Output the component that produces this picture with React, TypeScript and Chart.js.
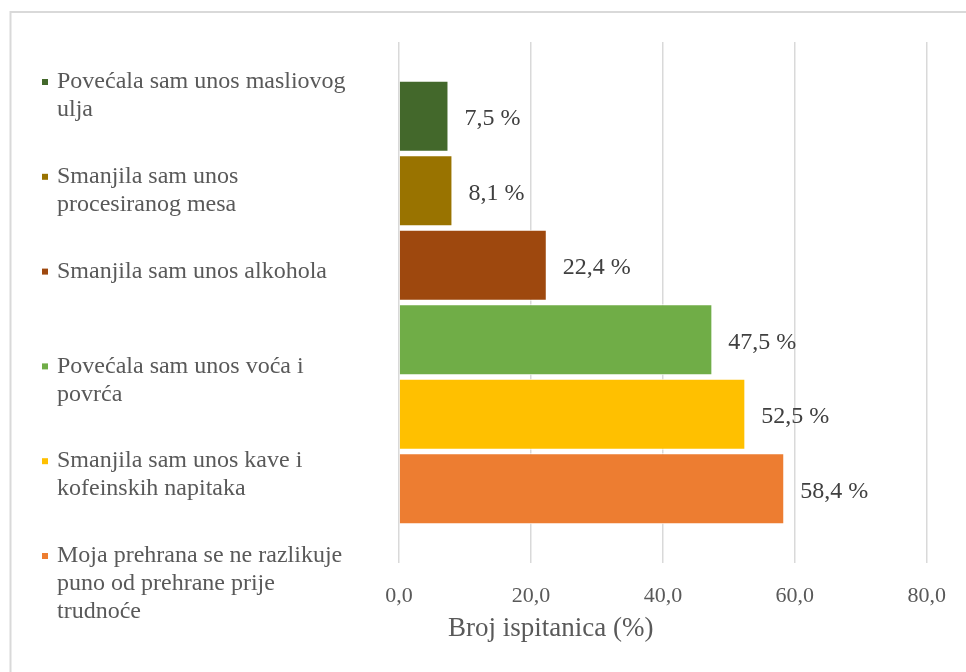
import React, { useEffect, useRef } from "react";
import { Chart, registerables } from "chart.js";

Chart.register(...registerables);

const categories = ["Promjene prehrane"];
const seriesLabels: string[][] = [
  ["Povećala sam unos masliovog", "ulja"],
  ["Smanjila sam unos", "procesiranog mesa"],
  ["Smanjila sam unos alkohola"],
  ["Povećala sam unos voća i", "povrća"],
  ["Smanjila sam unos kave i", "kofeinskih napitaka"],
  ["Moja prehrana se ne razlikuje", "puno od prehrane prije", "trudnoće"],
];
const seriesValues = [7.5, 8.1, 22.4, 47.5, 52.5, 58.4];
const seriesColors = ["#43682B", "#997300", "#9E480E", "#70AD47", "#FFC000", "#ED7D31"];
const xTickValues = [0, 20, 40, 60, 80];
const axisTitle = "Broj ispitanica (%)";

const FONT = "'Liberation Serif', 'Times New Roman', serif";
const fmt = (v: number) => v.toFixed(1).replace(".", ",");

const framePlugin = {
  id: "frame",
  beforeDraw(chart: any) {
    const ctx = chart.ctx;
    ctx.save();
    ctx.fillStyle = "#ffffff";
    ctx.fillRect(0, 0, chart.width, chart.height);
    ctx.strokeStyle = "#d9d9d9";
    ctx.lineWidth = 2;
    ctx.strokeRect(10.5, 12, chart.width + 50, chart.height + 50);
    ctx.restore();
  },
};

const sideLegendPlugin = {
  id: "sideLegend",
  afterDraw(chart: any) {
    const ctx = chart.ctx;
    const area = chart.chartArea;
    const first = area.top + 40;
    const step = 94.8;
    const lineH = 28;
    ctx.save();
    ctx.font = `24px ${FONT}`;
    ctx.textBaseline = "middle";
    ctx.textAlign = "left";
    chart.data.datasets.forEach((ds: any, i: number) => {
      const cy = first + i * step;
      ctx.fillStyle = ds.backgroundColor;
      ctx.fillRect(42, cy - 3, 6, 6);
      ctx.fillStyle = "#595959";
      const lines: string[] = ds.legendLines;
      lines.forEach((ln, j) => ctx.fillText(ln, 57, cy + j * lineH));
    });
    ctx.restore();
  },
};

const dataLabelPlugin = {
  id: "dataLabels",
  afterDatasetsDraw(chart: any) {
    const ctx = chart.ctx;
    ctx.save();
    ctx.font = `24px ${FONT}`;
    ctx.fillStyle = "#404040";
    ctx.textBaseline = "middle";
    ctx.textAlign = "left";
    chart.data.datasets.forEach((ds: any, i: number) => {
      const meta = chart.getDatasetMeta(i);
      meta.data.forEach((bar: any, j: number) => {
        ctx.fillText(fmt(ds.data[j]) + " %", bar.x + 16, bar.y + 2.5);
      });
    });
    ctx.restore();
  },
};

const axisTitlePlugin = {
  id: "axisTitleCustom",
  afterDraw(chart: any) {
    const ctx = chart.ctx;
    ctx.save();
    ctx.font = `27px ${FONT}`;
    ctx.fillStyle = "#595959";
    ctx.textBaseline = "middle";
    ctx.textAlign = "left";
    ctx.fillText(axisTitle, 448, 629);
    ctx.restore();
  },
};

export default function App() {
  const ref = useRef<HTMLCanvasElement | null>(null);
  useEffect(() => {
    if (!ref.current) return;
    const chart = new Chart(ref.current, {
      type: "bar",
      data: {
        labels: categories,
        datasets: seriesValues.map((v, i) => ({
          label: seriesLabels[i].join(" "),
          legendLines: seriesLabels[i],
          data: [v],
          backgroundColor: seriesColors[i],
          borderColor: "#ffffff",
          borderWidth: 1,
          categoryPercentage: 0.858,
          barPercentage: 0.953,
        })) as any,
      },
      options: {
        indexAxis: "y",
        animation: false,
        responsive: true,
        maintainAspectRatio: false,
        layout: { padding: { left: 399, right: 38, top: 42, bottom: 0 } },
        plugins: { legend: { display: false }, tooltip: { enabled: false } },
        scales: {
          x: {
            type: "linear",
            min: 0,
            max: 80,
            afterBuildTicks: (scale: any) => {
              scale.ticks = xTickValues.map((v) => ({ value: v }));
            },
            afterFit: (scale: any) => {
              scale.height = 109;
            },
            ticks: {
              callback: (v: any) => fmt(Number(v)),
              color: "#595959",
              font: { family: FONT, size: 22 },
              padding: 20,
            },
            grid: { color: "#d9d9d9", lineWidth: 1.5, drawTicks: false },
            border: { display: false },
          },
          y: { type: "category", display: false },
        },
      },
      plugins: [framePlugin, sideLegendPlugin, dataLabelPlugin, axisTitlePlugin],
    });
    return () => chart.destroy();
  }, []);
  return (
    <div style={{ position: "fixed", left: 0, top: 0, width: 966, height: 672, background: "#fff" }}>
      <canvas ref={ref} />
    </div>
  );
}
